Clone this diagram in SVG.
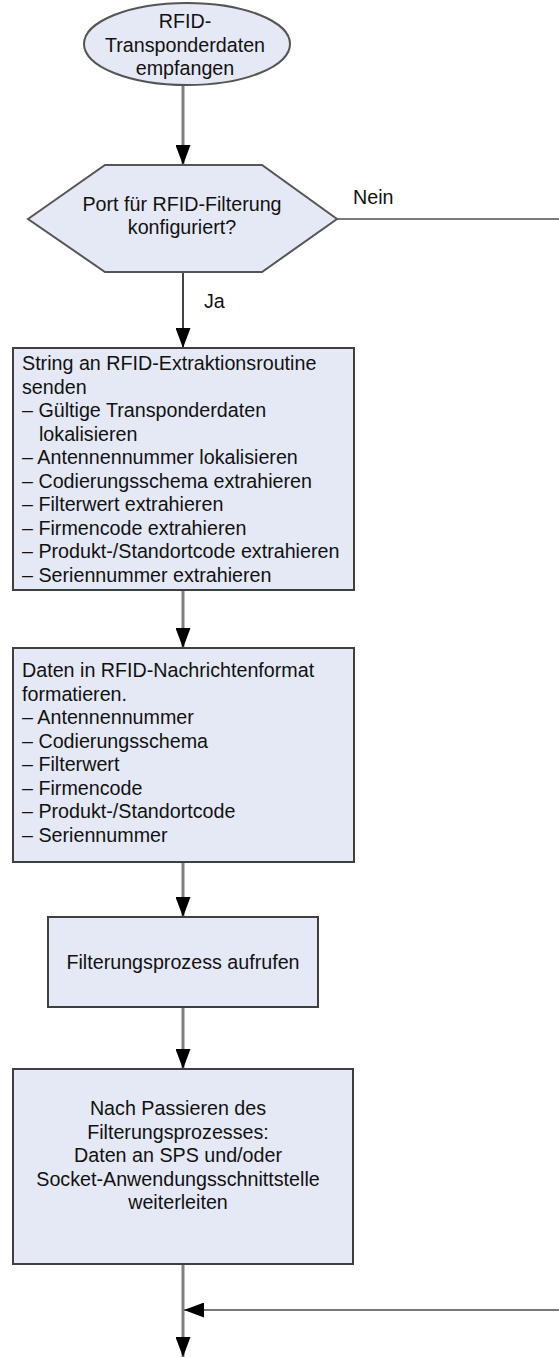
<svg xmlns="http://www.w3.org/2000/svg" width="559" height="1358" viewBox="0 0 559 1358">
<style>
.shape{fill:#e5e9f6;stroke:#3f3f3f;stroke-width:2}
.t{font-family:"Liberation Sans",Arial,sans-serif;font-size:19.7px;fill:#111}
.c{text-anchor:middle}
.line{fill:none;stroke:#7f7f7f;stroke-width:3}
.thin{fill:none;stroke:#7a7a7a;stroke-width:2}
</style>
<defs>
<marker id="ah" markerUnits="userSpaceOnUse" markerWidth="20" markerHeight="15" refX="20" refY="7.5" orient="auto">
<path d="M0,0 L20,7.5 L0,15 Z" fill="#000"/>
</marker>
</defs>
<rect width="559" height="1358" fill="#fff"/>
<g id="connectors">
<line class="line" x1="183" y1="86" x2="183" y2="165" marker-end="url(#ah)"/>
<line class="thin" x1="183" y1="272" x2="183" y2="348" marker-end="url(#ah)" style="stroke:#444"/>
<line class="line" x1="183" y1="590" x2="183" y2="648" marker-end="url(#ah)"/>
<line class="line" x1="183" y1="862" x2="183" y2="917" marker-end="url(#ah)"/>
<line class="line" x1="183" y1="1007" x2="183" y2="1069" marker-end="url(#ah)"/>
<line class="line" x1="183" y1="1264" x2="183" y2="1357" marker-end="url(#ah)"/>
<line class="thin" x1="337" y1="219" x2="559" y2="219"/>
<line class="thin" x1="559" y1="1310" x2="184" y2="1310" marker-end="url(#ah)"/>
<text class="t" x="353" y="204">Nein</text>
<text class="t" x="204" y="308">Ja</text>
</g>
<g id="start">
<ellipse class="shape" cx="187" cy="44" rx="103" ry="41" style="stroke:#555"/>
<text class="t c" x="185" y="28">RFID-</text>
<text class="t c" x="185" y="52">Transponderdaten</text>
<text class="t c" x="185" y="75">empfangen</text>
</g>
<g id="decision">
<polygon class="shape" points="28,219 105,165 262,165 337,219 262,272 105,272" style="stroke:#555"/>
<text class="t c" x="182" y="211">Port für RFID-Filterung</text>
<text class="t c" x="182" y="234">konfiguriert?</text>
</g>
<g id="extract">
<rect class="shape" x="13" y="348" width="341" height="242"/>
<text class="t" x="22" y="370">String an RFID-Extraktionsroutine</text>
<text class="t" x="22" y="393.5">senden</text>
<text class="t" x="22" y="417">– Gültige Transponderdaten</text>
<text class="t" x="39" y="440.5">lokalisieren</text>
<text class="t" x="22" y="464">– Antennennummer lokalisieren</text>
<text class="t" x="22" y="487.5">– Codierungsschema extrahieren</text>
<text class="t" x="22" y="511">– Filterwert extrahieren</text>
<text class="t" x="22" y="534.5">– Firmencode extrahieren</text>
<text class="t" x="22" y="558">– Produkt-/Standortcode extrahieren</text>
<text class="t" x="22" y="581.5">– Seriennummer extrahieren</text>
</g>
<g id="format">
<rect class="shape" x="13" y="648" width="341" height="214"/>
<text class="t" x="22" y="677">Daten in RFID-Nachrichtenformat</text>
<text class="t" x="22" y="700.5">formatieren.</text>
<text class="t" x="22" y="724">– Antennennummer</text>
<text class="t" x="22" y="747.5">– Codierungsschema</text>
<text class="t" x="22" y="771">– Filterwert</text>
<text class="t" x="22" y="794.5">– Firmencode</text>
<text class="t" x="22" y="818">– Produkt-/Standortcode</text>
<text class="t" x="22" y="841.5">– Seriennummer</text>
</g>
<g id="filter">
<rect class="shape" x="48" y="917" width="270" height="90"/>
<text class="t c" x="183" y="969">Filterungsprozess aufrufen</text>
</g>
<g id="forward">
<rect class="shape" x="13" y="1069" width="340" height="195"/>
<text class="t c" x="178" y="1115">Nach Passieren des</text>
<text class="t c" x="178" y="1138.5">Filterungsprozesses:</text>
<text class="t c" x="178" y="1162">Daten an SPS und/oder</text>
<text class="t c" x="178" y="1185.5">Socket-Anwendungsschnittstelle</text>
<text class="t c" x="178" y="1209">weiterleiten</text>
</g>
</svg>
